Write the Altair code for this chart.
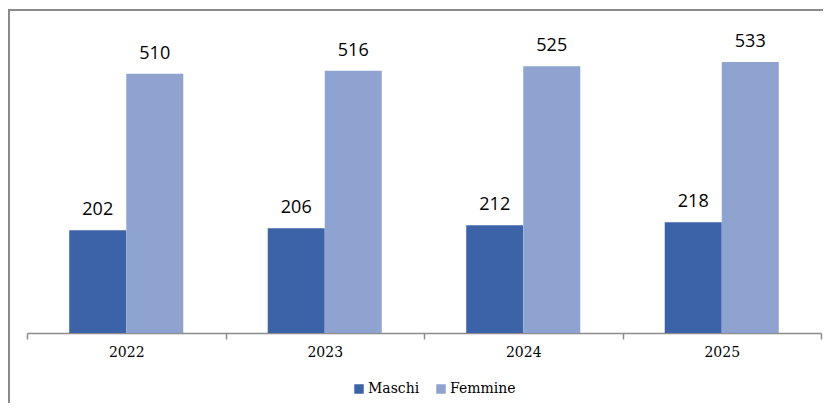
import altair as alt
import pandas as pd

years = ["2022", "2023", "2024", "2025"]
maschi = [202, 206, 212, 218]
femmine = [510, 516, 525, 533]
series = ["Maschi", "Femmine"]
colors = ["#3c63a8", "#8fa3d0"]

SERIF = "DejaVu Serif"

rows = []
for i, y in enumerate(years):
    rows.append({"anno": y, "sesso": "Maschi", "valore": maschi[i]})
    rows.append({"anno": y, "sesso": "Femmine", "valore": femmine[i]})
df = pd.DataFrame(rows)

x = alt.X("anno:N", sort=years, title=None,
          scale=alt.Scale(paddingInner=0, paddingOuter=0),
          axis=alt.Axis(labelAngle=0, labelPadding=6, tickBand="extent",
                        tickSize=6, tickColor="#8c8c8c", domainColor="#8c8c8c",
                        domainWidth=1.5, tickWidth=1.5))
xo = alt.XOffset("sesso:N", sort=series, scale=alt.Scale(paddingOuter=0.74, paddingInner=0))
y = alt.Y("valore:Q", scale=alt.Scale(domain=[0, 600]), axis=None)

bars = alt.Chart(df).mark_bar(size=57).encode(
    x=x, xOffset=xo, y=y,
    color=alt.Color("sesso:N", sort=series, scale=alt.Scale(domain=series, range=colors),
                    legend=alt.Legend(title=None, orient="none", legendX=325, legendY=354,
                                      direction="horizontal",
                                      symbolType="square", symbolSize=90, symbolStrokeWidth=0,
                                      columnPadding=14, symbolOffset=0, labelOffset=2))
)

labels = alt.Chart(df).mark_text(baseline="bottom", dy=-11, font="Open Sans",
                                 fontSize=18, color="#000000").encode(
    x=x, xOffset=xo, y=y, text="valore:Q"
)

frame_left = alt.Chart(df).mark_rule(color="#8a8a8a", strokeWidth=2).encode(
    x=alt.value(-18), y=alt.value(-19), y2=alt.value(400)
)
frame_top = alt.Chart(df).mark_rule(color="#8a8a8a", strokeWidth=2).encode(
    x=alt.value(-19), x2=alt.value(820), y=alt.value(-18)
)

chart = alt.layer(bars, labels, frame_left, frame_top).properties(
    width=794, height=305,
    autosize=alt.AutoSizeParams(type="none"),
    padding={"left": 19, "top": 20, "right": 2, "bottom": 70},
    background="#ffffff"
).configure_view(stroke=None).configure_axis(
    labelFont=SERIF, labelFontSize=14, labelColor="#000000"
).configure_legend(
    labelFont=SERIF, labelFontSize=14, labelColor="#000000"
)

chart.save("out.html", embed_options={"renderer": "svg", "actions": False})
